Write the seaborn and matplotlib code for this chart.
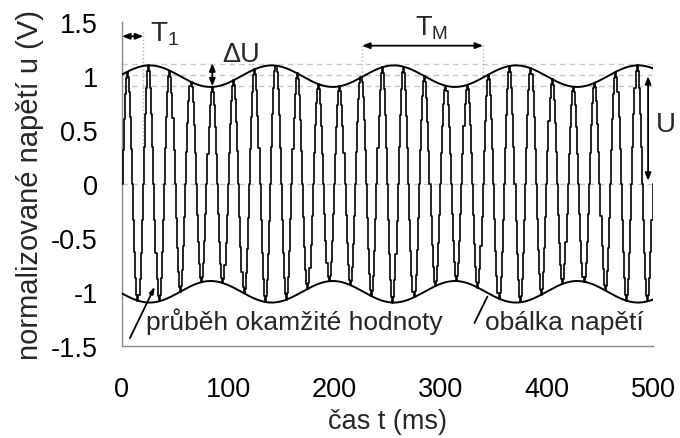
import numpy as np
import pandas as pd
import matplotlib
matplotlib.use("Agg")
import matplotlib.pyplot as plt
import seaborn as sns

# ---- values ----
t_start_ms, t_end_ms, t_step_ms = 0, 500, 1     # sampled time axis (ms)
carrier_period_ms = 20        # T1
mod_period_ms = 115           # TM
mod_peak_ms = 26              # first maximum of the envelope
amplitude_U = 1.0             # U
delta_U = 0.1                 # half of envelope swing

x_ticks = [0, 100, 200, 300, 400, 500]
x_tick_labels = ["0", "100", "200", "300", "400", "500"]
y_ticks = [-1.5, -1, -0.5, 0, 0.5, 1, 1.5]
y_tick_labels = ["-1.5", "-1", "-0.5", "0", "0.5", "1", "1.5"]

ref_levels = [1.115, 1.01, 0.905, 0.0]   # dashed grey guide lines
t1_marks = [0, 20]
tm_marks = [226, 340]
du_time = 85

x_label = "čas t (ms)"
y_label = "normalizované napětí u (V)"
label_signal = "průběh okamžité hodnoty"
label_envelope = "obálka napětí"

# ---- build data ----
t = np.arange(t_start_ms, t_end_ms + t_step_ms, t_step_ms)
env = amplitude_U + delta_U * np.cos(2 * np.pi * (t - mod_peak_ms) / mod_period_ms)
u = env * np.sin(2 * np.pi * t / carrier_period_ms)
df = pd.DataFrame({"t": t, "u": u, "env_hi": env, "env_lo": -env})

# ---- style ----
sns.set_style("white")
plt.rcParams["font.family"] = ["Liberation Sans", "DejaVu Sans"]
plt.rcParams["axes.unicode_minus"] = False
plt.rcParams["mathtext.default"] = "regular"

fig = plt.figure(figsize=(6.8, 4.39), dpi=100)
ax = fig.add_axes([0.1794, 0.2103, 0.781, 0.7367])

grey = "#8a8a8a"
for lv in ref_levels:
    ax.axhline(lv, color="#c8c8c8", lw=1.0, ls=(0, (4, 3)), zorder=1)

# dotted vertical guides
ax.plot([t1_marks[1]] * 2, [0.0, 1.41], color="#b0b0b0", lw=1.0, ls=":", zorder=1)
for tm in tm_marks:
    ax.plot([tm, tm], [1.0, 1.285], color="#b0b0b0", lw=1.0, ls=":", zorder=1)

sns.lineplot(data=df, x="t", y="u", ax=ax, color="black", lw=1.2,
             estimator=None, drawstyle="steps-mid", zorder=3)
sns.lineplot(data=df, x="t", y="env_hi", ax=ax, color="black", lw=1.4,
             estimator=None, zorder=4)
sns.lineplot(data=df, x="t", y="env_lo", ax=ax, color="black", lw=1.4,
             estimator=None, zorder=4)

ax.set_xlim(0, 500)
ax.set_ylim(-1.5, 1.5)
ax.set_xticks(x_ticks)
ax.set_xticklabels(x_tick_labels)
ax.set_yticks(y_ticks)
ax.set_yticklabels(y_tick_labels)
ax.set_xlabel(x_label, fontsize=19.5, labelpad=5)
ax.set_ylabel(y_label, fontsize=21, labelpad=5)

for s in ["top", "right"]:
    ax.spines[s].set_visible(False)
for s in ["left", "bottom"]:
    ax.spines[s].set_color(grey)
    ax.spines[s].set_linewidth(1.0)
ax.tick_params(axis="both", direction="out", length=7.5, width=1.0,
               color=grey, labelsize=19.5, labelcolor="black")
ax.tick_params(axis="x", pad=14)
ax.tick_params(axis="y", pad=10)

# ---- annotations ----
arrow_kw = dict(arrowstyle="<|-|>,head_length=0.45,head_width=0.18",
                color="black", lw=1.3, shrinkA=0, shrinkB=0)
ax.annotate("", xy=(t1_marks[0], 1.37), xytext=(t1_marks[1], 1.37), arrowprops=arrow_kw)
ax.text(26.5, 1.327, r"$\mathregular{T_1}$", fontsize=20, va="baseline", ha="left")

ax.annotate("", xy=(du_time, 1.12), xytext=(du_time, 0.905), arrowprops=arrow_kw)
ax.text(94, 1.144, "ΔU", fontsize=19.5, va="baseline", ha="left")

ax.annotate("", xy=(tm_marks[0], 1.283), xytext=(tm_marks[1], 1.283), arrowprops=arrow_kw)
ax.text(276, 1.39, r"$\mathregular{T_M}$", fontsize=19.5, va="baseline", ha="left")

ax.annotate("", xy=(495.3, 1.0), xytext=(495.3, 0.03), arrowprops=arrow_kw,
            annotation_clip=False)
ax.text(503, 0.494, "U", fontsize=20, va="baseline", ha="left", clip_on=False)

ax.text(22.6, -1.345, label_signal, fontsize=19, va="baseline", ha="left")
ax.annotate("", xy=(31, -0.95), xytext=(7.5, -1.43),
            arrowprops=dict(arrowstyle="-|>,head_length=0.4,head_width=0.12",
                            color="black", lw=1.3, shrinkA=0, shrinkB=0))
ax.text(341.8, -1.345, label_envelope, fontsize=19, va="baseline", ha="left")
ax.annotate("", xy=(344, -1.045), xytext=(331.8, -1.29),
            arrowprops=dict(arrowstyle="-", color="black", lw=1.3,
                            shrinkA=0, shrinkB=0))

fig.savefig("out.png", dpi=100)
